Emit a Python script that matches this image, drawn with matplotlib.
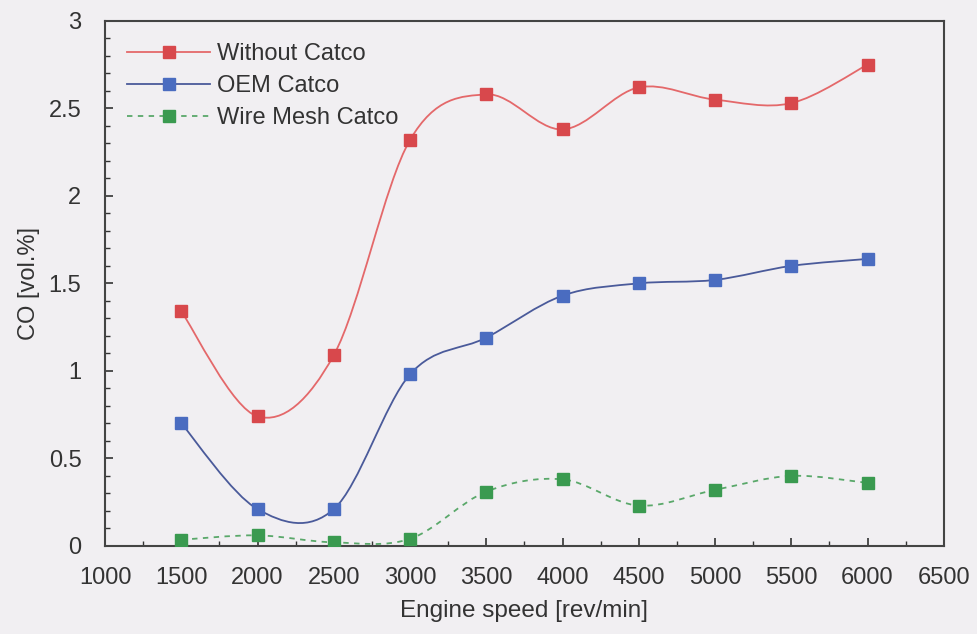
import numpy as np
import matplotlib
matplotlib.use("Agg")
import matplotlib.pyplot as plt
from matplotlib.path import Path
from matplotlib.patches import PathPatch
from matplotlib.ticker import MultipleLocator, FuncFormatter
from matplotlib.lines import Line2D

plt.rcParams['font.family'] = ['Liberation Sans', 'DejaVu Sans']

speed = [1500, 2000, 2500, 3000, 3500, 4000, 4500, 5000, 5500, 6000]
without_catco = [1.34, 0.74, 1.09, 2.32, 2.58, 2.38, 2.62, 2.55, 2.53, 2.75]
oem_catco = [0.70, 0.21, 0.21, 0.98, 1.19, 1.43, 1.50, 1.52, 1.60, 1.64]
wire_mesh = [0.035, 0.06, 0.02, 0.04, 0.31, 0.38, 0.23, 0.32, 0.40, 0.36]
labels = ['Without Catco', 'OEM Catco', 'Wire Mesh Catco']


def smooth_path(x, y):
    # excel style smoothed line: cubic bezier segments, catmull-rom control points
    p = np.column_stack([x, y]).astype(float)
    n = len(p)
    verts = [p[0]]
    codes = [Path.MOVETO]
    for i in range(n - 1):
        p0 = p[i - 1] if i > 0 else p[i]
        p3 = p[i + 2] if i + 2 < n else p[i + 1]
        c1 = p[i] + (p[i + 1] - p0) / 6.0
        c2 = p[i + 1] - (p3 - p[i]) / 6.0
        verts += [c1, c2, p[i + 1]]
        codes += [Path.CURVE4] * 3
    return Path(verts, codes)


bg = '#f1eff2'
txt = '#333333'
fig = plt.figure(figsize=(9.77, 6.34), dpi=100, facecolor=bg)
ax = fig.add_axes([0.1075, 0.139, 0.8585, 0.828])
ax.set_facecolor(bg)

series = [
    (without_catco, '#e4686a', '#d8484c', '-'),
    (oem_catco, '#4a5a9a', '#4a6cc0', '-'),
    (wire_mesh, '#5aa86a', '#3a9a50', (0, (3, 3))),
]
handles = []
for vals, lc, mc, ls in series:
    patch = PathPatch(smooth_path(speed, vals), facecolor='none', edgecolor=lc,
                      lw=1.3, linestyle=ls, zorder=2)
    ax.add_patch(patch)
    ax.plot(speed, vals, linestyle='none', marker='s', markersize=9,
            color=mc, zorder=3)
    handles.append(Line2D([], [], color=lc, lw=1.3, linestyle=ls, marker='s',
                          markersize=8, markerfacecolor=mc, markeredgecolor=mc))

ax.set_xlim(1000, 6500)
ax.set_ylim(0, 3)
ax.xaxis.set_major_locator(MultipleLocator(500))
ax.xaxis.set_minor_locator(MultipleLocator(250))
ax.yaxis.set_major_locator(MultipleLocator(0.5))
ax.yaxis.set_minor_locator(MultipleLocator(0.1))
ax.yaxis.set_major_formatter(FuncFormatter(lambda v, p: '{:g}'.format(v)))
ax.tick_params(axis='both', which='major', direction='in', length=6, width=1.2,
               labelsize=17, colors=txt)
ax.tick_params(axis='x', which='major', pad=15)
ax.tick_params(axis='y', which='major', pad=17)
ax.tick_params(axis='both', which='minor', direction='in', length=3.5, width=1,
               colors=txt)
for s in ax.spines.values():
    s.set_color('#444444')
    s.set_linewidth(1.5)

ax.set_xlabel('Engine speed [rev/min]', fontsize=17.5, color=txt, labelpad=8)
ax.set_ylabel('CO [vol.%]', fontsize=17, color=txt, labelpad=6)

leg = ax.legend(handles, labels, loc='upper left', frameon=False, fontsize=17,
                handlelength=3.5, handletextpad=0.3, labelspacing=0.42,
                borderaxespad=0.55, bbox_to_anchor=(0.0, 1.0))
for t in leg.get_texts():
    t.set_color(txt)

fig.savefig('out.png', dpi=100, facecolor=bg)
